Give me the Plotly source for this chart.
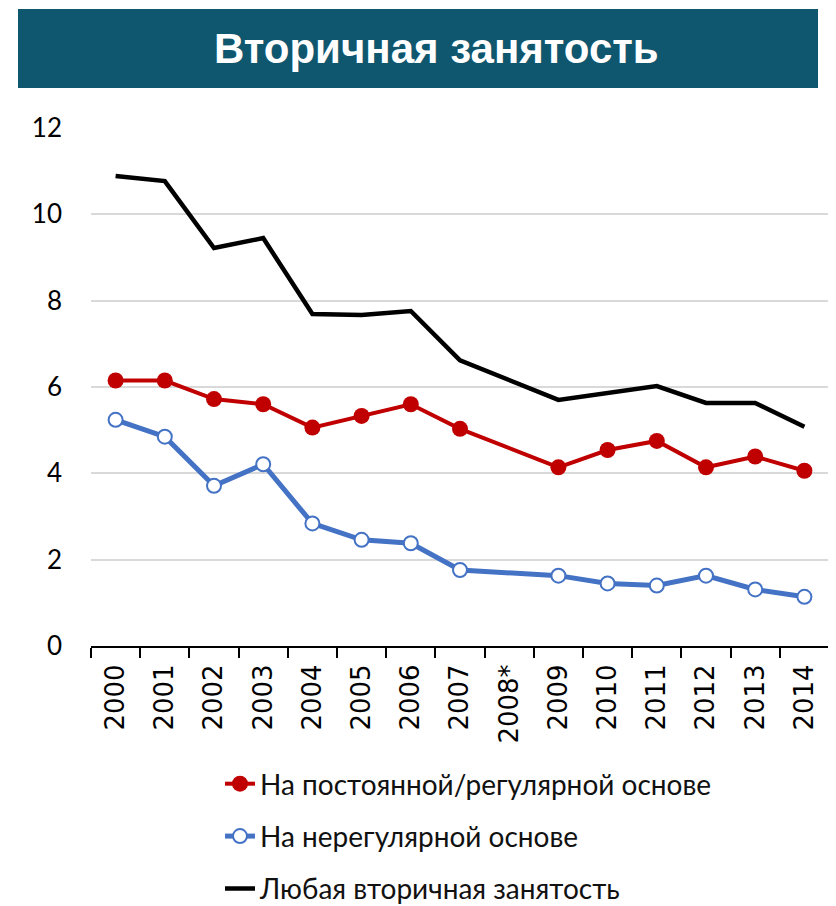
import plotly.graph_objects as go

years = ["2000", "2001", "2002", "2003", "2004", "2005", "2006", "2007", "2008*",
         "2009", "2010", "2011", "2012", "2013", "2014"]
regular = [6.15, 6.15, 5.72, 5.60, 5.06, 5.33, 5.60, 5.03, None,
           4.14, 4.54, 4.75, 4.14, 4.39, 4.06]
irregular = [5.24, 4.85, 3.71, 4.21, 2.84, 2.46, 2.38, 1.76, None,
             1.63, 1.45, 1.40, 1.63, 1.31, 1.14]
any_secondary = [10.89, 10.77, 9.22, 9.45, 7.69, 7.67, 7.76, 6.62, None,
                 5.70, 5.86, 6.02, 5.63, 5.63, 5.08]

names = ["На постоянной/регулярной основе", "На нерегулярной основе",
         "Любая вторичная занятость"]
title_text = "Вторичная занятость"

W, H = 828, 898          # page body has an 8px margin
L, T = 83, 120
PW, PH = 738, 518

fig = go.Figure()
fig.add_trace(go.Scatter(
    x=years, y=regular, name=names[0], mode="lines+markers", connectgaps=True,
    line=dict(color="#C00000", width=4),
    marker=dict(color="#C00000", size=16, line=dict(width=0)),
    legendgroup="a"))
fig.add_trace(go.Scatter(
    x=years, y=irregular, name=names[1], mode="lines+markers", connectgaps=True,
    line=dict(color="#4472C4", width=5),
    marker=dict(color="white", size=14, line=dict(color="#4472C4", width=2)),
    legendgroup="b"))
fig.add_trace(go.Scatter(
    x=years, y=any_secondary, name=names[2], mode="lines", connectgaps=True,
    line=dict(color="#000000", width=4.5),
    legendgroup="c"))

fig.update_layout(
    width=W, height=H,
    margin=dict(l=L, r=W - L - PW, t=T, b=H - T - PH, autoexpand=False),
    paper_bgcolor="white", plot_bgcolor="white",
    showlegend=True,
    legend=dict(x=(212 - L) / PW, y=(H - 751) / H, xanchor="left", yanchor="top",
                yref="container",
                orientation="v", tracegroupgap=13,
                font=dict(family="Lato, Open Sans, sans-serif", size=28, color="#111111"),
                bgcolor="rgba(0,0,0,0)"),
    shapes=[dict(type="rect", xref="paper", yref="paper",
                 x0=(10 - L) / PW, x1=(810 - L) / PW,
                 y0=(T + PH - 80) / PH, y1=(T + PH - 1) / PH,
                 fillcolor="#0F566F", line=dict(width=0), layer="above")],
    annotations=[dict(text="<b>" + title_text + "</b>", xref="paper", yref="paper",
                      x=(428 - L) / PW, y=(T + PH - 40) / PH,
                      xanchor="center", yanchor="middle", showarrow=False,
                      font=dict(family="Liberation Sans, Arial, sans-serif",
                                size=42, color="white"))],
)

fig.update_xaxes(
    type="category", range=[-0.5, 14.5], automargin=False,
    showline=True, linecolor="black", linewidth=2,
    ticks="outside", tickson="boundaries", ticklen=10, tickwidth=2, tickcolor="black",
    tickangle=-90, showgrid=False, ticklabelstandoff=6,
    tickfont=dict(family="DejaVu Sans, sans-serif", size=26, color="black"),
)
fig.update_yaxes(
    range=[0, 12], tickvals=[0, 2, 4, 6, 8, 10, 12], automargin=False,
    showgrid=True, gridcolor="#D9D9D9", gridwidth=2,
    zeroline=False, showline=False, ticks="", ticklabelstandoff=28,
    tickfont=dict(family="Lato, Open Sans, sans-serif", size=26, color="black"),
)

fig.write_html("out.html")
